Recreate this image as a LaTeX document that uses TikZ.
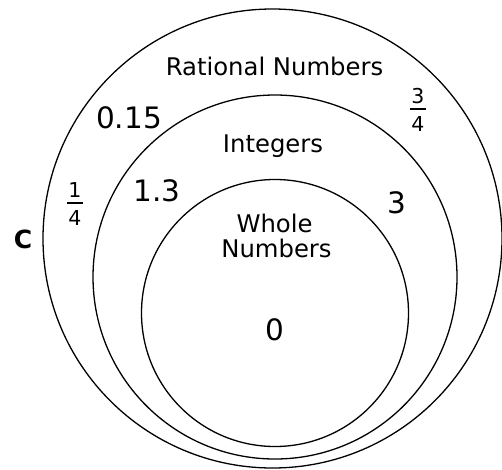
\documentclass[tikz,border=0pt]{standalone}
\usepackage{fontspec}
\setmainfont{DejaVu Sans}
\begin{document}
\begin{tikzpicture}[x=1pt,y=-1pt,
  ring/.style={draw=black,line width=1.3pt},
  lbl/.style={inner sep=0pt,anchor=base,font=\fontsize{24.3}{26}\selectfont},
  num/.style={inner sep=0pt,anchor=base,font=\fontsize{29.5}{31}\selectfont},
  frac/.style={inner sep=0pt,anchor=base,font=\fontsize{20.5}{22}\selectfont},
  fracbar/.style={line width=1.3pt}]
\useasboundingbox (0,0) rectangle (502,469);
\draw[ring] (272.5,238.5) circle[radius=229.5];
\draw[ring] (275,277) circle[radius=182];
\draw[ring] (275,313) circle[radius=133.5];
\node[lbl] (rat) at (274.5,75) {Rational Numbers};
\node[lbl] (int) at (273,152) {Integers};
\node[lbl] (who) at (274.5,232) {Whole};
\node[lbl] (wnum) at (276.5,257) {Numbers};
\node[num] (n015) at (129,128) {0.15};
\node[num] (n13) at (157,201) {1.3};
\node[num] (n3) at (396.5,213) {3};
\node[num] (n0) at (275,340) {0};
\node[inner sep=0pt,anchor=base,font=\fontsize{25}{27}\selectfont\bfseries] (c) at (23,248) {C};
\node[frac] (q1n) at (75,197) {1};
\draw[fracbar] (67,203) -- (83,203);
\node[frac] (q1d) at (75,225) {4};
\node[frac] (q3n) at (418,103) {3};
\draw[fracbar] (410,109) -- (426,109);
\node[frac] (q3d) at (418,131) {4};
\end{tikzpicture}
\end{document}
